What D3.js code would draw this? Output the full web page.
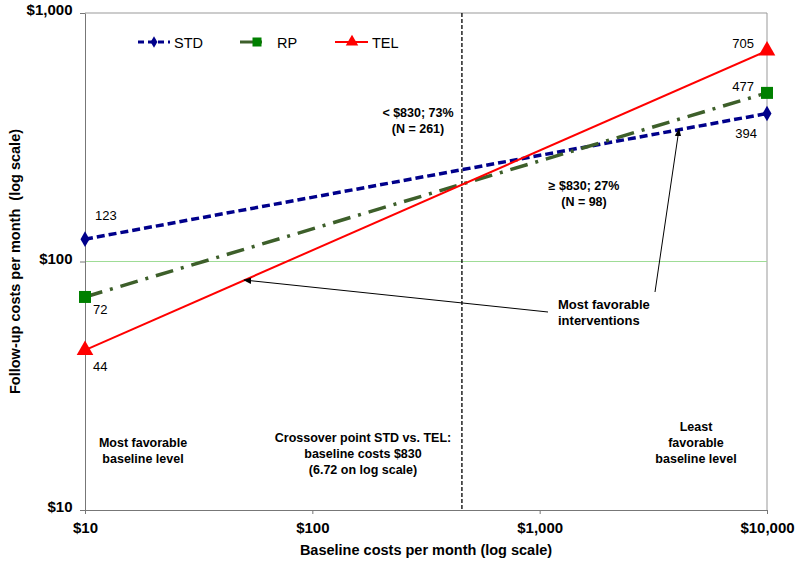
<!DOCTYPE html>
<html><head><meta charset="utf-8">
<script src="https://cdn.jsdelivr.net/npm/d3@7"></script>
<style>body{margin:0;background:#fff}text{font-family:"Liberation Sans",Arial,sans-serif}</style>
</head><body><svg id="c" width="800" height="568"></svg>
<script>
const xDomain = [10, 10000];
const yDomain = [10, 1000];
const xTicks = [10, 100, 1000, 10000];
const xTickLabels = ["$10", "$100", "$1,000", "$10,000"];
const yTicks = [10, 100, 1000];
const yTickLabels = ["$10", "$100", "$1,000"];
const baseline = [10, 10000];
const seriesNames = ["STD", "RP", "TEL"];
const stdValues = [123, 394];
const rpValues = [72, 477];
const telValues = [44, 705];
const crossover = 455;

const svg = d3.select("#c");
const L = 85, R = 767, T = 13, B = 510;
const x = d3.scaleLog().domain(xDomain).range([L, R]);
const y = d3.scaleLog().domain(yDomain).range([B, T]);

// frame
svg.append("line").attr("x1", L).attr("x2", R).attr("y1", T).attr("y2", T).attr("stroke", "#999");
svg.append("line").attr("x1", R).attr("x2", R).attr("y1", T).attr("y2", B).attr("stroke", "#999");
// gridline at 100
svg.append("line").attr("x1", L).attr("x2", R).attr("y1", y(100)).attr("y2", y(100)).attr("stroke", "#9fdc96").attr("stroke-width", 1);

// axes
const xa = svg.append("g").attr("transform", `translate(0,${B})`)
  .call(d3.axisBottom(x).tickValues(xTicks).tickFormat((d, i) => xTickLabels[i]).tickSize(4).tickSizeOuter(0));
const ya = svg.append("g").attr("transform", `translate(${L},0)`)
  .call(d3.axisLeft(y).tickValues(yTicks).tickFormat((d, i) => yTickLabels[i]).tickSize(5).tickSizeOuter(0));
[xa, ya].forEach(a => {
  a.select(".domain").attr("stroke", "#777");
  a.selectAll(".tick line").attr("stroke", "#777");
  a.selectAll("text").attr("font-size", 15).attr("font-weight", "bold").attr("fill", "#000")
   .style("font-family", '"Liberation Sans",Arial,sans-serif');
});
xa.selectAll("text").attr("dy", "1.05em");
ya.selectAll("text").attr("dx", "-0.3em").attr("dy", "0.1em");

svg.append("text").attr("x", (L + R) / 2).attr("y", 555).attr("text-anchor", "middle")
  .attr("font-size", 14.5).attr("font-weight", "bold").text("Baseline costs per month (log scale)");
svg.append("text").attr("transform", `translate(20,${(T + B) / 2}) rotate(-90)`).attr("text-anchor", "middle")
  .attr("font-size", 14.5).attr("font-weight", "bold").style("white-space", "pre").text("Follow-up costs per month  (log scale)");

// crossover line
svg.append("line").attr("x1", x(crossover)).attr("x2", x(crossover)).attr("y1", T).attr("y2", B)
  .attr("stroke", "#000").attr("stroke-width", 1.3).attr("stroke-dasharray", "4,2");

const line = d3.line().x(d => x(d[0])).y(d => y(d[1]));
const series = [
  { name: "STD", vals: stdValues, color: "#00008b", dash: "8,4", width: 3.5 },
  { name: "RP", vals: rpValues, color: "#3d5f2a", dash: "18,8,3,8", width: 3.5 },
  { name: "TEL", vals: telValues, color: "#ff0000", dash: null, width: 2 }
];
series.forEach(s => {
  svg.append("path").datum(baseline.map((b, i) => [b, s.vals[i]])).attr("d", line)
    .attr("fill", "none").attr("stroke", s.color).attr("stroke-width", s.width)
    .attr("stroke-dasharray", s.dash);
});
function marker(name, cx, cy, k) {
  k = k || 1;
  if (name === "STD") svg.append("path").attr("d", d3.symbol(d3.symbolDiamond, 70 * k * k)()).attr("transform", `translate(${cx},${cy})`).attr("fill", "#00008b");
  if (name === "RP") svg.append("rect").attr("x", cx - 6 * k).attr("y", cy - 6 * k).attr("width", 12 * k).attr("height", 12 * k).attr("fill", "#008000");
  if (name === "TEL") svg.append("path").attr("d", d3.symbol(d3.symbolTriangle, 120 * k * k)()).attr("transform", `translate(${cx},${cy})`).attr("fill", "#ff0000");
}
series.forEach(s => baseline.forEach((b, i) => marker(s.name, x(b), y(s.vals[i]))));

// value labels
const lab = (t, px, py, anchor) => svg.append("text").attr("x", px).attr("y", py).attr("text-anchor", anchor || "start").attr("font-size", 13).text(t);
lab(stdValues[0], 95, 220); lab(rpValues[0], 93, 314); lab(telValues[0], 93, 371);
lab(telValues[1], 754, 48, "end"); lab(rpValues[1], 754, 91, "end"); lab(stdValues[1], 757, 138, "end");

// legend
const leg = [
  { x1: 138, x2: 170, mx: 154, tx: 174 },
  { x1: 240, x2: 262, mx: 257, tx: 277 },
  { x1: 335, x2: 368, mx: 352, tx: 372 }
];
leg.forEach((g, i) => {
  const s = series[i];
  svg.append("line").attr("x1", g.x1).attr("x2", g.x2).attr("y1", 42).attr("y2", 42).attr("stroke", s.color)
    .attr("stroke-width", s.name === "TEL" ? 2 : 3).attr("stroke-dasharray", s.name === "STD" ? "6,4" : null);
  marker(s.name, g.mx, 42, 0.75);
  svg.append("text").attr("x", g.tx).attr("y", 47.5).attr("font-size", 14.5).text(s.name);
});

// annotations
const ann = (lines, cx, cy, size, anchor) => {
  const t = svg.append("text").attr("font-size", size).attr("font-weight", "bold").attr("text-anchor", anchor || "middle");
  lines.forEach((l, i) => t.append("tspan").attr("x", cx).attr("y", cy + i * 16).text(l));
};
ann(["< $830; 73%", "(N = 261)"], 418, 117, 12.5);
ann(["\u2265 $830; 27%", "(N = 98)"], 584, 190, 12.5);
ann(["Most favorable", "interventions"], 558, 309, 13, "start");
ann(["Crossover point STD vs. TEL:", "baseline costs $830", "(6.72 on log scale)"], 363, 442, 12.5);
ann(["Most favorable", "baseline level"], 143, 447, 12.5);
ann(["Least", "favorable", "baseline level"], 696, 431, 12.5);

// arrows
svg.append("defs").append("marker").attr("id", "ah").attr("viewBox", "0 0 10 10").attr("refX", 9).attr("refY", 5)
  .attr("markerWidth", 8).attr("markerHeight", 8).attr("orient", "auto")
  .append("path").attr("d", "M0,1 L10,5 L0,9 Z").attr("fill", "#000");
svg.append("line").attr("x1", 548).attr("y1", 312).attr("x2", 244).attr("y2", 280).attr("stroke", "#000").attr("stroke-width", 1).attr("marker-end", "url(#ah)");
svg.append("line").attr("x1", 655).attr("y1", 292).attr("x2", 679).attr("y2", 129).attr("stroke", "#000").attr("stroke-width", 1).attr("marker-end", "url(#ah)");
</script></body></html>
